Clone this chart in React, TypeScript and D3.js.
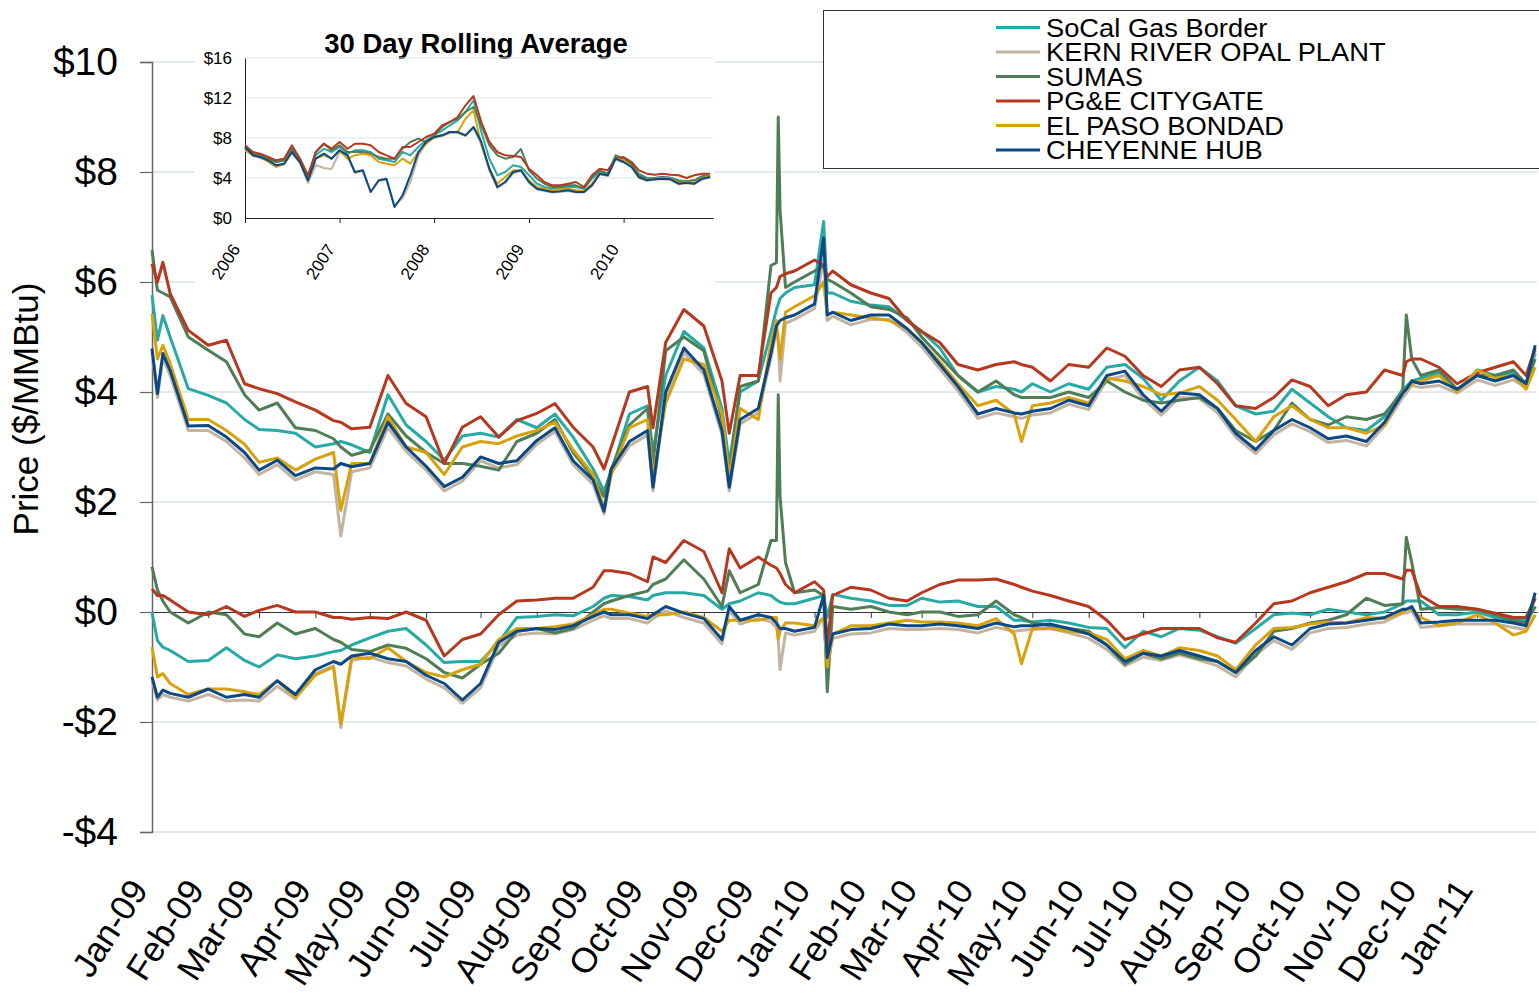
import React, { useRef, useEffect } from 'react';
import * as d3 from 'd3';

const FONT = '"Liberation Sans", Arial, sans-serif';

// daily hub prices, sampled about every 10 days plus spike days
const dates = [
  '2009-01-01', '2009-01-04', '2009-01-07', '2009-01-11', '2009-01-21', '2009-02-01', '2009-02-11', '2009-02-21', '2009-03-01', '2009-03-11', '2009-03-21', '2009-04-01',
  '2009-04-11', '2009-04-15', '2009-04-21', '2009-05-01', '2009-05-11', '2009-05-21', '2009-06-01', '2009-06-11', '2009-06-21', '2009-07-01',
  '2009-07-11', '2009-07-21', '2009-08-01', '2009-08-11', '2009-08-21', '2009-09-01', '2009-09-07', '2009-09-11', '2009-09-21', '2009-10-01',
  '2009-10-04', '2009-10-11', '2009-10-21', '2009-11-01', '2009-11-11', '2009-11-15', '2009-11-21', '2009-12-01', '2009-12-08', '2009-12-11',
  '2009-12-12', '2009-12-13', '2009-12-16', '2009-12-21', '2010-01-01', '2010-01-06', '2010-01-08', '2010-01-11', '2010-01-21', '2010-02-01',
  '2010-02-11', '2010-02-21', '2010-03-01', '2010-03-11', '2010-03-21', '2010-04-01', '2010-04-11', '2010-04-21', '2010-04-25', '2010-05-01',
  '2010-05-11', '2010-05-21', '2010-06-01', '2010-06-11', '2010-06-21', '2010-07-01', '2010-07-11', '2010-07-21', '2010-08-01', '2010-08-11',
  '2010-08-21', '2010-09-01', '2010-09-11', '2010-09-21', '2010-10-01', '2010-10-11', '2010-10-21', '2010-11-01', '2010-11-11', '2010-11-21',
  '2010-11-23', '2010-11-26', '2010-12-01', '2010-12-11', '2010-12-21', '2011-01-01', '2011-01-11', '2011-01-21', '2011-01-28', '2011-02-02',
];

const socalPrice = [
  5.76, 4.94, 5.39, 5.0, 4.06, 3.94, 3.8, 3.5, 3.32, 3.3, 3.25, 3.0,
  3.06, 3.1, 3.04, 2.9, 3.95, 3.4, 3.1, 2.76, 3.2, 3.25,
  3.18, 3.5, 3.35, 3.6, 3.18, 2.6, 2.2, 2.55, 3.6, 3.75,
  2.9, 4.3, 5.1, 4.8, 3.7, 2.7, 4.0, 4.2, 5.1, 5.5,
  5.6, 5.7, 5.8, 5.9, 5.95, 7.1, 5.8, 5.8, 5.65, 5.58,
  5.55, 5.3, 5.1, 4.8, 4.3, 4.0, 4.1, 4.05, 4.0, 4.15,
  4.0, 4.15, 4.05, 4.45, 4.5, 4.25, 3.85, 4.2, 4.45, 4.2,
  3.75, 3.6, 3.65, 4.05, 3.8, 3.55, 3.35, 3.3, 3.55, 4.05,
  4.1, 4.2, 4.25, 4.35, 4.0, 4.4, 4.3, 4.35, 4.15, 4.7,
];
const kernPrice = [
  4.72, 3.9, 4.62, 4.3, 3.3, 3.3, 3.1, 2.8, 2.5, 2.68, 2.4, 2.55,
  2.5, 1.38, 2.55, 2.62, 3.35, 2.92, 2.58, 2.2, 2.38, 2.75,
  2.62, 2.68, 3.05, 3.28, 2.68, 2.32, 1.78, 2.52, 3.02, 3.22,
  2.2, 3.92, 4.72, 4.32, 3.22, 2.2, 3.42, 3.62, 4.62, 5.12,
  5.0, 4.2, 5.25, 5.32, 5.52, 6.4, 5.3, 5.38, 5.22, 5.32,
  5.32, 5.08, 4.82, 4.42, 4.02, 3.52, 3.62, 3.55, 3.52, 3.58,
  3.62, 3.78, 3.68, 4.22, 4.3, 3.88, 3.58, 3.9, 3.88, 3.62,
  3.18, 2.88, 3.22, 3.42, 3.28, 3.08, 3.12, 3.02, 3.38, 3.9,
  3.98, 4.12, 4.08, 4.12, 3.98, 4.22, 4.12, 4.22, 4.08, 4.75,
];
const sumasPrice = [
  6.58, 5.85, 5.8, 5.73, 5.0, 4.76, 4.55, 3.95, 3.67, 3.8, 3.35, 3.3,
  3.15, 3.0, 2.85, 2.94, 3.6, 3.2, 2.9, 2.7, 2.7, 2.65,
  2.58, 3.1, 3.25, 3.5, 2.9, 2.45, 2.1, 2.6, 3.4, 3.7,
  2.7, 4.75, 5.0, 4.75, 3.5, 2.5, 4.1, 4.2, 6.3, 6.35,
  9.0, 7.3, 5.9, 6.0, 6.2, 6.3, 6.05, 6.0, 5.8, 5.55,
  5.5, 5.35, 5.0, 4.65, 4.3, 4.0, 4.2, 3.95, 3.9, 3.9,
  3.9, 4.0, 3.9, 4.2, 4.0, 3.85, 3.8, 3.85, 3.9, 3.7,
  3.3, 3.1, 3.3, 3.8, 3.5, 3.4, 3.55, 3.5, 3.6, 4.0,
  5.4, 4.6, 4.3, 4.4, 4.05, 4.3, 4.3, 4.4, 4.15, 4.6,
];
const pgePrice = [
  6.33, 6.0, 6.36, 5.79, 5.12, 4.85, 4.94, 4.15, 4.06, 3.97, 3.82, 3.67,
  3.48, 3.45, 3.33, 3.36, 4.3, 3.79, 3.55, 2.7, 3.36, 3.55,
  3.18, 3.48, 3.61, 3.79, 3.36, 3.0, 2.6, 3.0, 4.0, 4.1,
  3.35, 4.9, 5.5, 5.2, 4.2, 3.25, 4.3, 4.3, 5.8, 5.9,
  6.0, 6.1, 6.15, 6.2, 6.4, 6.3, 6.1, 6.2, 5.95, 5.8,
  5.7, 5.3, 5.1, 4.9, 4.5, 4.4, 4.5, 4.55, 4.5, 4.45,
  4.2, 4.5, 4.45, 4.8, 4.65, 4.3, 4.1, 4.4, 4.45, 4.15,
  3.75, 3.7, 3.9, 4.22, 4.1, 3.75, 3.95, 4.0, 4.4, 4.3,
  4.55, 4.6, 4.6, 4.45, 4.15, 4.35, 4.45, 4.55, 4.3, 4.8,
];
const elPasoPrice = [
  5.42, 4.6, 4.85, 4.52, 3.5, 3.5, 3.3, 3.05, 2.72, 2.8, 2.58, 2.78,
  2.9, 1.85, 2.7, 2.7, 3.55, 3.0, 2.9, 2.5, 3.0, 3.1,
  3.06, 3.2, 3.3, 3.45, 2.95, 2.5, 1.9, 2.5, 3.35, 3.5,
  2.45, 3.8, 4.6, 4.5, 3.6, 2.45, 3.7, 3.5, 4.9, 5.3,
  4.9, 4.6, 5.45, 5.55, 5.75, 6.0, 5.4, 5.45, 5.4, 5.35,
  5.3, 5.15, 4.9, 4.55, 4.15, 3.75, 3.85, 3.6, 3.1, 3.75,
  3.8, 3.9, 3.8, 4.25, 4.2, 4.1, 3.95, 3.98, 4.1, 3.85,
  3.5, 3.1, 3.55, 3.75, 3.5, 3.35, 3.35, 3.25, 3.4, 4.0,
  4.05, 4.15, 4.2, 4.3, 4.0, 4.4, 4.25, 4.3, 4.05, 4.45,
];
const cheyennePrice = [
  4.79, 3.97, 4.7, 4.39, 3.38, 3.39, 3.18, 2.9, 2.58, 2.76, 2.48, 2.62,
  2.6, 2.7, 2.64, 2.7, 3.45, 3.0, 2.65, 2.28, 2.45, 2.82,
  2.7, 2.75, 3.12, 3.35, 2.75, 2.4, 1.83, 2.6, 3.1, 3.3,
  2.27, 4.0, 4.8, 4.4, 3.3, 2.27, 3.5, 3.7, 4.7, 5.2,
  5.25, 5.3, 5.35, 5.4, 5.6, 6.8, 5.4, 5.45, 5.3, 5.4,
  5.4, 5.15, 4.9, 4.5, 4.1, 3.6, 3.7, 3.62, 3.6, 3.65,
  3.7, 3.85, 3.75, 4.3, 4.38, 3.95, 3.65, 3.98, 3.95, 3.7,
  3.25, 2.95, 3.3, 3.5, 3.35, 3.15, 3.2, 3.1, 3.45, 3.98,
  4.05, 4.2, 4.15, 4.2, 4.05, 4.3, 4.2, 4.3, 4.15, 4.85,
];

// basis to Henry Hub (lower group of lines)
const socalBasis = [
  0.0, -0.52, -0.64, -0.7, -0.9, -0.88, -0.65, -0.88, -1.0, -0.78, -0.85, -0.8,
  -0.72, -0.7, -0.6, -0.47, -0.35, -0.3, -0.6, -0.92, -0.9, -0.9,
  -0.55, -0.1, -0.08, -0.05, -0.07, 0.1, 0.25, 0.3, 0.28, 0.22,
  0.3, 0.35, 0.35, 0.3, 0.05, 0.15, 0.2, 0.35, 0.3, 0.22,
  0.2, 0.18, 0.15, 0.15, 0.25, 0.3, -0.1, 0.32, 0.25, 0.2,
  0.12, 0.12, 0.25, 0.18, 0.2, 0.1, 0.1, -0.15, -0.15, -0.18,
  -0.15, -0.2, -0.28, -0.3, -0.65, -0.35, -0.45, -0.3, -0.33, -0.45,
  -0.57, -0.3, -0.05, -0.02, -0.05, 0.05, 0.0, -0.05, 0.0, 0.15,
  0.2, 0.2, 0.2, -0.05, -0.05, 0.0, -0.1, -0.15, -0.15, 0.1,
];
const kernBasis = [
  -1.25, -1.6, -1.5, -1.55, -1.62, -1.5, -1.62, -1.6, -1.62, -1.35, -1.58, -1.12,
  -0.98, -2.1, -0.88, -0.82, -0.92, -0.98, -1.22, -1.38, -1.66, -1.38,
  -0.62, -0.42, -0.38, -0.4, -0.32, -0.15, -0.07, -0.12, -0.12, -0.2,
  -0.12, 0.02, -0.1, -0.2, -0.58, 0.02, -0.22, -0.12, -0.18, -0.28,
  -0.5, -1.05, -0.38, -0.42, -0.35, -0.1, -1.0, -0.48, -0.4, -0.38,
  -0.3, -0.32, -0.32, -0.3, -0.32, -0.38, -0.28, -0.35, -0.33, -0.32,
  -0.3, -0.38, -0.48, -0.68, -0.98, -0.82, -0.88, -0.78, -0.88, -0.98,
  -1.18, -0.78, -0.52, -0.68, -0.38, -0.3, -0.28, -0.22, -0.18, -0.02,
  -0.02, 0.02, -0.28, -0.25, -0.22, -0.22, -0.22, -0.28, -0.32, 0.28,
];
const sumasBasis = [
  0.82, 0.4, 0.2, 0.0, -0.2, 0.0, -0.05, -0.4, -0.45, -0.2, -0.4, -0.3,
  -0.5, -0.55, -0.68, -0.72, -0.6, -0.66, -0.85, -1.1, -1.2, -0.95,
  -0.75, -0.35, -0.3, -0.38, -0.3, 0.0, 0.15, 0.2, 0.3, 0.38,
  0.5, 0.6, 0.95, 0.6, 0.1, 0.75, 0.35, 0.5, 1.3, 1.3,
  3.95, 2.1, 0.9, 0.35, 0.4, 0.3, -1.45, 0.1, 0.05, 0.1,
  0.0, -0.05, 0.0, 0.0, -0.08, -0.05, 0.2, -0.05, -0.1, -0.2,
  -0.25, -0.3, -0.35, -0.6, -0.95, -0.75, -0.85, -0.75, -0.85, -0.9,
  -1.1, -0.8, -0.35, -0.3, -0.2, -0.15, -0.05, 0.25, 0.12, 0.15,
  1.36, 0.9, 0.05, 0.08, 0.05, 0.05, -0.05, -0.15, -0.2, 0.1,
];
const pgeBasis = [
  0.42, 0.3, 0.3, 0.22, 0.0, -0.05, 0.1, -0.08, 0.03, 0.12, 0.0, 0.0,
  -0.1, -0.1, -0.13, -0.1, -0.12, 0.0, -0.15, -0.8, -0.5, -0.4,
  -0.05, 0.2, 0.22, 0.25, 0.25, 0.45, 0.75, 0.75, 0.7, 0.55,
  1.0, 0.9, 1.3, 1.1, 0.35, 1.15, 0.8, 1.0, 0.85, 0.8,
  0.75, 0.7, 0.5, 0.35, 0.55, 0.4, -0.6, 0.3, 0.45, 0.4,
  0.25, 0.2, 0.35, 0.5, 0.58, 0.58, 0.6, 0.5, 0.45, 0.38,
  0.3, 0.2, 0.1, -0.15, -0.5, -0.4, -0.3, -0.3, -0.3, -0.47,
  -0.55, -0.2, 0.15, 0.2, 0.35, 0.45, 0.55, 0.7, 0.7, 0.6,
  0.76, 0.76, 0.3, 0.1, 0.1, 0.05, -0.02, -0.1, -0.1, 0.25,
];
const elPasoBasis = [
  -0.64, -1.18, -1.12, -1.3, -1.5, -1.4, -1.4, -1.45, -1.5, -1.25, -1.55, -1.15,
  -1.0, -2.03, -0.82, -0.85, -0.65, -0.9, -1.1, -1.18, -1.05, -0.95,
  -0.5, -0.3, -0.3, -0.27, -0.22, -0.05, 0.05, 0.05, -0.02, -0.08,
  -0.05, -0.05, 0.0, -0.1, -0.35, -0.15, -0.15, -0.15, -0.1, -0.1,
  -0.5, -0.35, -0.2, -0.2, -0.25, -0.1, -1.0, -0.4, -0.25, -0.25,
  -0.2, -0.15, -0.18, -0.18, -0.2, -0.25, -0.12, -0.4, -0.94, -0.3,
  -0.3, -0.35, -0.38, -0.5, -0.85, -0.7, -0.8, -0.65, -0.7, -0.8,
  -1.05, -0.6, -0.3, -0.28, -0.22, -0.18, -0.2, -0.1, -0.12, 0.0,
  0.05, 0.05, -0.1, -0.25, -0.2, -0.05, -0.2, -0.42, -0.35, -0.05,
];
const cheyenneBasis = [
  -1.18, -1.55, -1.42, -1.48, -1.55, -1.4, -1.55, -1.5, -1.55, -1.25, -1.5, -1.05,
  -0.9, -0.95, -0.8, -0.75, -0.85, -0.9, -1.15, -1.3, -1.6, -1.3,
  -0.55, -0.35, -0.3, -0.32, -0.25, -0.08, 0.0, -0.05, -0.05, -0.12,
  -0.05, 0.1, -0.02, -0.12, -0.5, 0.1, -0.15, -0.05, -0.1, -0.2,
  -0.25, -0.3, -0.3, -0.35, -0.28, 0.3, -0.83, -0.4, -0.32, -0.3,
  -0.22, -0.25, -0.25, -0.22, -0.25, -0.3, -0.2, -0.27, -0.25, -0.25,
  -0.22, -0.3, -0.4, -0.6, -0.9, -0.75, -0.8, -0.7, -0.8, -0.9,
  -1.1, -0.7, -0.45, -0.6, -0.3, -0.22, -0.2, -0.15, -0.1, 0.05,
  0.05, 0.1, -0.2, -0.18, -0.15, -0.15, -0.15, -0.2, -0.25, 0.35,
];

// 30 day rolling average, monthly, Jan 2006 .. Dec 2010
const socalAvg = [
  6.93, 6.43, 6.27, 5.93, 5.6, 5.77, 6.93, 5.77, 3.93, 6.27, 6.93, 6.6,
  7.1, 6.43, 6.77, 6.77, 6.6, 5.93, 5.77, 5.6, 6.6, 6.27, 7.1, 7.77,
  8.27, 8.77, 9.27, 9.77, 10.6, 11.77, 8.6, 5.93, 4.27, 4.6, 5.27, 5.1,
  4.27, 3.43, 3.1, 2.93, 3.0, 3.1, 3.1, 2.93, 3.93, 4.6, 4.43, 6.1,
  5.93, 5.27, 4.43, 4.0, 4.0, 4.1, 4.03, 3.77, 3.67, 3.77, 4.1, 4.27,
];
const kernAvg = [
  7.0, 6.2, 6.0, 5.7, 5.2, 5.35, 6.5, 5.5, 3.5, 5.3, 5.0, 4.9,
  6.6, 6.1, 4.5, 4.7, 2.6, 3.7, 3.8, 1.2, 2.0, 3.6, 6.2, 7.5,
  8.0, 8.2, 8.5, 8.5, 8.2, 9.0, 7.4, 4.7, 3.0, 3.5, 4.5, 4.7,
  3.5, 2.85, 2.7, 2.55, 2.6, 2.7, 2.55, 2.55, 3.2, 4.35, 4.2, 5.85,
  5.55, 5.05, 4.05, 3.72, 3.82, 3.88, 3.82, 3.38, 3.48, 3.38, 3.88, 4.05,
];
const sumasAvg = [
  6.93, 6.43, 6.27, 5.93, 5.6, 5.77, 6.93, 5.93, 4.1, 6.6, 7.43, 6.77,
  7.27, 6.6, 6.6, 6.6, 6.43, 6.1, 5.93, 5.93, 6.93, 7.6, 7.93, 7.6,
  8.27, 9.1, 9.6, 9.93, 10.6, 11.1, 9.27, 7.27, 6.27, 5.93, 6.1, 6.9,
  4.77, 3.93, 3.43, 3.1, 3.1, 3.27, 3.27, 2.93, 4.1, 4.77, 4.43, 6.27,
  5.93, 5.43, 4.27, 3.93, 4.0, 4.1, 4.0, 3.7, 3.67, 3.77, 4.2, 4.27,
];
const pgeAvg = [
  7.27, 6.6, 6.43, 6.1, 5.77, 5.93, 7.27, 5.93, 4.27, 6.6, 7.43, 6.93,
  7.6, 6.93, 7.43, 7.43, 7.27, 6.6, 6.27, 5.93, 7.1, 7.1, 7.6, 8.1,
  8.43, 9.27, 9.6, 10.1, 11.27, 12.2, 9.6, 7.6, 6.6, 6.27, 6.2, 6.1,
  4.93, 4.27, 3.6, 3.27, 3.27, 3.43, 3.6, 3.1, 4.27, 4.93, 4.77, 5.93,
  6.1, 5.6, 4.77, 4.43, 4.33, 4.43, 4.33, 4.27, 4.0, 4.27, 4.43, 4.43,
];
const elPasoAvg = [
  6.77, 6.27, 6.1, 5.6, 5.1, 5.43, 6.6, 5.6, 3.77, 5.93, 6.27, 5.93,
  6.77, 5.93, 6.27, 6.43, 6.27, 5.6, 5.43, 5.27, 5.93, 5.43, 6.6, 7.43,
  8.1, 8.27, 8.6, 8.6, 9.93, 10.77, 7.27, 4.93, 3.43, 4.1, 4.77, 4.77,
  3.77, 3.1, 2.93, 2.77, 2.87, 2.93, 2.77, 2.67, 3.43, 4.43, 4.27, 5.93,
  5.77, 5.1, 4.0, 3.83, 3.93, 4.0, 3.93, 3.53, 3.6, 3.53, 4.0, 4.17,
];
const cheyenneAvg = [
  7.1, 6.27, 6.1, 5.77, 5.27, 5.43, 6.6, 5.6, 3.77, 5.93, 6.43, 5.93,
  6.77, 6.27, 4.6, 4.77, 2.6, 3.77, 3.93, 1.1, 2.27, 4.27, 6.6, 7.6,
  8.1, 8.27, 8.6, 8.6, 8.27, 9.1, 7.6, 4.93, 3.1, 3.6, 4.6, 4.77,
  3.6, 2.93, 2.77, 2.6, 2.67, 2.77, 2.6, 2.6, 3.27, 4.43, 4.27, 5.93,
  5.6, 5.1, 4.1, 3.77, 3.87, 3.93, 3.87, 3.43, 3.53, 3.43, 3.93, 4.1,
];

const hubs = [
  { name: 'SoCal Gas Border', color: '#27a9a5', price: socalPrice, basis: socalBasis, avg: socalAvg },
  { name: 'KERN RIVER OPAL PLANT', color: '#c3b4a2', price: kernPrice, basis: kernBasis, avg: kernAvg },
  { name: 'SUMAS', color: '#4f7d55', price: sumasPrice, basis: sumasBasis, avg: sumasAvg },
  { name: 'PG&E CITYGATE', color: '#b5381f', price: pgePrice, basis: pgeBasis, avg: pgeAvg },
  { name: 'EL PASO BONDAD', color: '#d8a20c', price: elPasoPrice, basis: elPasoBasis, avg: elPasoAvg },
  { name: 'CHEYENNE HUB', color: '#0b4884', price: cheyennePrice, basis: cheyenneBasis, avg: cheyenneAvg },
];

const yTicks = [-4, -2, 0, 2, 4, 6, 8, 10];
const insetTicks = [0, 4, 8, 12, 16];

export default function App() {
  const svgRef = useRef<SVGSVGElement>(null);

  useEffect(() => {
    document.body.style.margin = '0';
    document.body.style.overflow = 'hidden';

    const W = 1539, H = 998;
    const svg = d3.select(svgRef.current);
    svg.selectAll('*').remove();
    svg.attr('width', W).attr('height', H).style('font-family', FONT);
    svg.append('rect').attr('width', W).attr('height', H).attr('fill', '#fff');

    const parse = d3.timeParse('%Y-%m-%d');
    const days = dates.map(d => parse(d) as Date);

    const x = d3.scaleTime()
      .domain([new Date(2009, 0, 1), new Date(2011, 1, 3)])
      .range([152, 1537]);
    const y = d3.scaleLinear().domain([-4, 10]).range([832, 62]);

    // grid lines
    svg.append('g')
      .selectAll('line')
      .data(yTicks.filter(t => t !== 0))
      .join('line')
      .attr('x1', 152).attr('x2', 1537)
      .attr('y1', d => y(d)).attr('y2', d => y(d))
      .attr('stroke', '#d7e5e9')
      .attr('stroke-width', 1.5);

    // Y axis
    const yAxis = svg.append('g')
      .attr('transform', 'translate(152,0)')
      .call(d3.axisLeft(y).tickValues(yTicks).tickSize(12).tickPadding(22)
        .tickFormat(d => (+d < 0 ? `-$${-d}` : `$${d}`)));
    yAxis.select('.domain').attr('stroke', '#666').attr('stroke-width', 1.5);
    yAxis.selectAll('.tick line').attr('stroke', '#666').attr('stroke-width', 1.2);
    yAxis.selectAll('text')
      .style('font-family', FONT)
      .style('font-size', '39px')
      .attr('fill', '#000');

    svg.append('text')
      .attr('transform', 'translate(38,409) rotate(-90)')
      .attr('text-anchor', 'middle')
      .style('font-size', '35px')
      .text('Price ($/MMBtu)');

    // zero line with month ticks
    const months = d3.timeMonth.range(new Date(2009, 0, 1), new Date(2011, 0, 2));
    const xAxis = svg.append('g')
      .attr('transform', `translate(0,${y(0)})`)
      .call(d3.axisBottom(x).tickValues(months).tickSize(6).tickSizeOuter(0).tickFormat(() => ''));
    xAxis.select('.domain').attr('stroke', '#333').attr('stroke-width', 1.2);
    xAxis.selectAll('.tick line').attr('stroke', '#333');

    const fmt = d3.timeFormat('%b-%y');
    svg.append('g')
      .selectAll('text')
      .data(months)
      .join('text')
      .attr('transform', d => `translate(${x(d) - 3},890) rotate(-57)`)
      .attr('text-anchor', 'end')
      .style('font-size', '35px')
      .text(d => fmt(d));

    // lines
    const line = d3.line<number>()
      .x((d, i) => x(days[i]))
      .y(d => y(d))
      .curve(d3.curveLinear);

    const lines = svg.append('g');
    hubs.forEach(h => {
      [h.price, h.basis].forEach(vals => {
        lines.append('path')
          .datum(vals)
          .attr('d', line)
          .attr('fill', 'none')
          .attr('stroke', h.color)
          .attr('stroke-width', 3)
          .attr('stroke-linejoin', 'round');
      });
    });

    // inset chart
    const inset = svg.append('g');
    inset.append('rect')
      .attr('x', 195).attr('y', 18).attr('width', 520).attr('height', 272)
      .attr('fill', '#fff');

    const ix = d3.scaleTime()
      .domain([new Date(2006, 0, 1), new Date(2010, 11, 12)])
      .range([245, 713]);
    const iy = d3.scaleLinear().domain([0, 16]).range([218, 58]);
    const avgMonths = d3.timeMonth.range(new Date(2006, 0, 1), new Date(2011, 0, 1));

    inset.append('text')
      .attr('x', 476).attr('y', 53)
      .attr('text-anchor', 'middle')
      .style('font-size', '27.5px')
      .style('font-weight', 'bold')
      .text('30 Day Rolling Average');

    inset.append('g')
      .selectAll('line')
      .data(insetTicks.filter(t => t > 0))
      .join('line')
      .attr('x1', 245).attr('x2', 713)
      .attr('y1', d => iy(d)).attr('y2', d => iy(d))
      .attr('stroke', '#d7e5e9')
      .attr('stroke-width', 1.2);

    const iyAxis = inset.append('g')
      .attr('transform', 'translate(245,0)')
      .call(d3.axisLeft(iy).tickValues(insetTicks).tickSize(0).tickPadding(13).tickFormat(d => `$${d}`));
    iyAxis.select('.domain').attr('stroke', '#222');
    iyAxis.selectAll('text').style('font-family', FONT).style('font-size', '17px').attr('fill', '#000');

    const years = d3.timeYear.range(new Date(2006, 0, 1), new Date(2011, 0, 1));
    const ixAxis = inset.append('g')
      .attr('transform', `translate(0,${iy(0)})`)
      .call(d3.axisBottom(ix).tickValues(years).tickSize(5).tickSizeOuter(0).tickFormat(() => ''));
    ixAxis.select('.domain').attr('stroke', '#222');
    ixAxis.selectAll('.tick line').attr('stroke', '#222');

    inset.append('g')
      .selectAll('text')
      .data(years)
      .join('text')
      .attr('transform', d => `translate(${ix(d) - 4},249) rotate(-57)`)
      .attr('text-anchor', 'end')
      .style('font-size', '17px')
      .text(d => d3.timeFormat('%Y')(d));

    const iline = d3.line<number>()
      .x((d, i) => ix(avgMonths[i]))
      .y(d => iy(d));
    hubs.forEach(h => {
      inset.append('path')
        .datum(h.avg)
        .attr('d', iline)
        .attr('fill', 'none')
        .attr('stroke', h.color)
        .attr('stroke-width', 2)
        .attr('stroke-linejoin', 'round');
    });

    // legend
    const legend = svg.append('g');
    legend.append('rect')
      .attr('x', 823.5).attr('y', 10.5).attr('width', 730).attr('height', 158)
      .attr('fill', '#fff').attr('stroke', '#333').attr('stroke-width', 1);
    hubs.forEach((h, i) => {
      const cy = 27.5 + i * 24.5;
      legend.append('line')
        .attr('x1', 996).attr('x2', 1040)
        .attr('y1', cy).attr('y2', cy)
        .attr('stroke', h.color).attr('stroke-width', 3);
      legend.append('text')
        .attr('transform', `translate(1046,${cy}) scale(1.05,1)`)
        .attr('dy', '0.36em')
        .style('font-size', '26px')
        .text(h.name);
    });
  }, []);

  return (
    <div>
      <svg ref={svgRef} style={{ position: 'absolute', left: 0, top: 0 }} />
    </div>
  );
}
